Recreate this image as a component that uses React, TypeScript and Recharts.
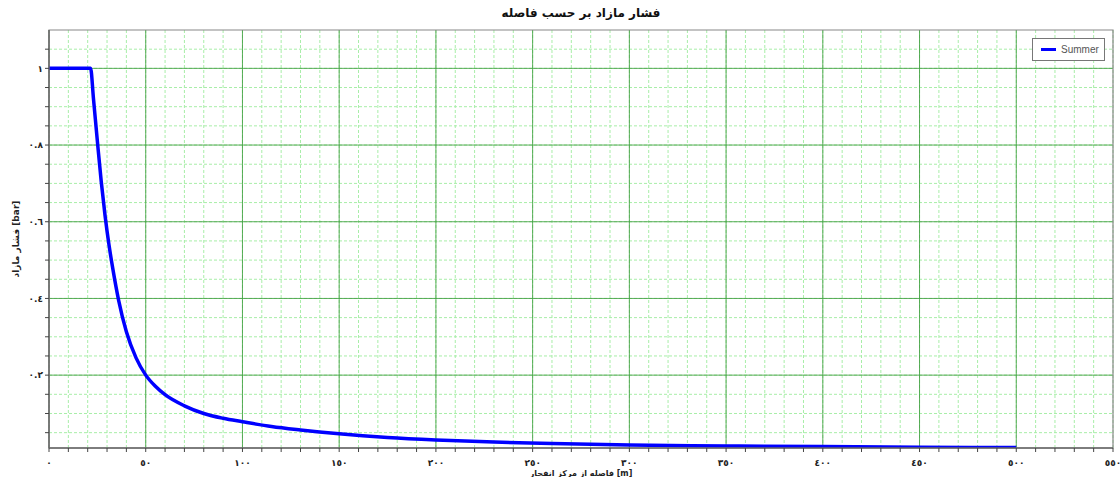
import React from "react";
import {
  LineChart,
  Line,
  XAxis,
  YAxis,
  CartesianGrid,
  ReferenceArea,
  Label,
} from "recharts";

const distance = [0, 21.5, 23, 25, 27, 29, 31, 33, 36, 40, 45, 50, 55, 60, 70, 80, 90, 100, 115, 130, 150, 175, 200, 230, 260, 300, 350, 400, 450, 500];
const overpressure = [1, 1, 0.92, 0.81, 0.705, 0.615, 0.54, 0.477, 0.395, 0.313, 0.245, 0.2, 0.171, 0.149, 0.12, 0.1, 0.0875, 0.0785, 0.066, 0.057, 0.047, 0.0375, 0.031, 0.0255, 0.0215, 0.018, 0.0153, 0.0136, 0.0122, 0.011];

const xTicks = [0, 10, 20, 30, 40, 50, 60, 70, 80, 90, 100, 110, 120, 130, 140, 150, 160, 170, 180, 190, 200, 210, 220, 230, 240, 250, 260, 270, 280, 290, 300, 310, 320, 330, 340, 350, 360, 370, 380, 390, 400, 410, 420, 430, 440, 450, 460, 470, 480, 490, 500, 510, 520, 530, 540, 550];
const yTicks = [0.05, 0.1, 0.15, 0.2, 0.25, 0.3, 0.35, 0.4, 0.45, 0.5, 0.55, 0.6, 0.65, 0.7, 0.75, 0.8, 0.85, 0.9, 0.95, 1, 1.05];
const xMajor = [50, 100, 150, 200, 250, 300, 350, 400, 450, 500];
const yMajor = [0.2, 0.4, 0.6, 0.8, 1];

const data = distance.map((d, i) => ({ d, p: overpressure[i] }));

const digits = "٠١٢٣٤٥٦٧٨٩";
const toArabic = (s: string) => s.replace(/[0-9]/g, (c) => digits[+c]);

const fmtX = (v: number) => (v % 50 === 0 ? toArabic(String(v)) : "");
const fmtY = (v: number) => {
  const r = Math.round(v * 100);
  if (r % 20 !== 0) return "";
  return toArabic(r === 100 ? "1" : (r / 100).toFixed(1));
};

const LegendBox = () => (
  <div
    style={{
      position: "absolute",
      left: 1032,
      top: 38,
      width: 73,
      height: 23,
      border: "1px solid #777",
      background: "#fff",
      display: "flex",
      alignItems: "center",
      fontFamily: "Arial, 'Liberation Sans', sans-serif",
      fontSize: 10,
      color: "#555",
      boxSizing: "border-box",
    }}
  >
    <span style={{ display: "inline-block", width: 15, height: 3, background: "#0000ff", marginLeft: 8, marginRight: 5 }} />
    Summer
  </div>
);

export default function App() {
  const tickStyle = { fill: "#222", fontSize: 9, fontWeight: 700, fontFamily: "DejaVu Sans, sans-serif" };
  return (
    <div style={{ position: "relative", width: 1120, height: 477, background: "#fff", overflow: "hidden" }}>
      <style>{`body{margin:0}`}</style>
      <div
        style={{
          position: "absolute",
          left: 49,
          width: 1064,
          top: 6,
          textAlign: "center",
          fontFamily: "DejaVu Sans, sans-serif",
          fontWeight: 700,
          fontSize: 12,
          color: "#111",
          direction: "rtl",
        }}
      >
        فشار مازاد بر حسب فاصله
      </div>
      <LineChart width={1120} height={477} data={data} margin={{ top: 30, right: 7, left: 9, bottom: 0 }}>
        <CartesianGrid
          horizontalValues={yTicks}
          verticalValues={xTicks}
          stroke="#a8eea8"
          strokeDasharray="3 2"
        />
        <CartesianGrid horizontalValues={yMajor} verticalValues={xMajor} stroke="#3f9f3f" strokeOpacity={0.85} />
        <XAxis
          dataKey="d"
          type="number"
          domain={[0, 550]}
          ticks={xTicks}
          tickFormatter={fmtX}
          interval={0}
          height={29}
          tick={tickStyle}
          tickSize={4}
          tickMargin={8}
          axisLine={{ stroke: "#666", strokeWidth: 1.5 }}
          tickLine={{ stroke: "#444" }}
        >
          <Label
            value="فاصله از مرکز انفجار [m]"
            position="insideBottom"
            offset={1}
            style={{ fontSize: 8, fontWeight: 700, fill: "#222", fontFamily: "DejaVu Sans, sans-serif" }}
          />
        </XAxis>
        <YAxis
          type="number"
          domain={[0.01, 1.1]}
          ticks={yTicks}
          tickFormatter={fmtY}
          interval={0}
          width={40}
          tick={tickStyle}
          tickSize={4}
          axisLine={{ stroke: "#666", strokeWidth: 1.5 }}
          tickLine={{ stroke: "#444" }}
          allowDataOverflow
        >
          <Label
            value="فشار مازاد [bar]"
            angle={-90}
            position="insideLeft"
            offset={7}
            style={{ fontSize: 9, fontWeight: 700, fill: "#222", fontFamily: "DejaVu Sans, sans-serif", textAnchor: "middle" }}
          />
        </YAxis>
        <ReferenceArea x1={0} x2={550} y1={0.01} y2={1.1} fill="none" stroke="#888" strokeWidth={1.2} ifOverflow="visible" />
        <Line
          type="monotone"
          dataKey="p"
          stroke="#0000ff"
          strokeWidth={3.5}
          dot={false}
          isAnimationActive={false}
        />
      </LineChart>
      <LegendBox />
    </div>
  );
}
